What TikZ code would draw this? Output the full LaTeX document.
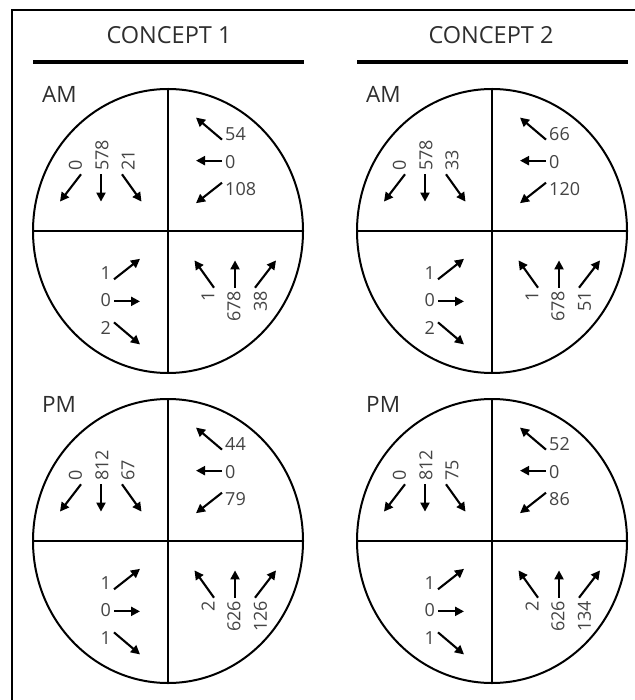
\documentclass[tikz,border=0pt]{standalone}
\usepackage{fontspec}
\setmainfont{Open Sans}
\usetikzlibrary{arrows.meta,shapes.geometric}
\definecolor{hdrcol}{HTML}{2E2E2E}
\definecolor{numcol}{HTML}{444444}
\tikzset{
  arr/.style={line width=2.1pt,-{Triangle[length=9pt,width=9pt]}},
  numlab/.style={text=numcol,inner sep=0pt,font=\fontsize{18}{19}\selectfont},
  hdr/.style={text=hdrcol,inner sep=0pt,font=\fontsize{23.5}{25}\selectfont},
  per/.style={text=hdrcol,inner sep=0pt,font=\fontsize{22.5}{24}\selectfont,anchor=west},
  junc/.style={draw,ellipse,line width=2pt,minimum width=270pt,minimum height=284pt,inner sep=0pt},
  divider/.style={line width=1.5pt},
  rule/.style={line width=3.2pt},
  frame/.style={line width=2pt}
}
% #1 cx, #2 cy, #3 rotation, #4 text rotation, #5 anchor, #6 #7 #8 labels
\newcommand{\legset}[8]{%
\begin{scope}[shift={(#1,#2)},yscale=1.05,rotate=#3]
  \coordinate (at) at (54,-87);  \coordinate (ah) at (28,-108);
  \coordinate (bt) at (54,-67);  \coordinate (bh) at (28,-67);
  \coordinate (ct) at (54,-46);  \coordinate (ch) at (28,-26.5);
  \draw[arr] (at) -- (ah);
  \draw[arr] (bt) -- (bh);
  \draw[arr] (ct) -- (ch);
  \node[numlab,rotate=#4,anchor=#5] at (57,-92.5) {#6};
  \node[numlab,rotate=#4,anchor=#5] at (57,-66) {#7};
  \node[numlab,rotate=#4,anchor=#5] at (57,-40) {#8};
\end{scope}}
% #1 name, #2 cx, #3 cy, #4 period label
\newcommand{\junction}[4]{%
  \node[junc] (#1) at (#2,#3) {};
  \draw[divider] (#1.north) -- (#1.south);
  \draw[divider] (#1.west) -- (#1.east);
  \node[per] (#1lab) at ([xshift=-126pt,yshift=137pt]#1.center) {#4};
}
\begin{document}
\begin{tikzpicture}[x=1pt,y=-1pt]
\useasboundingbox (0,0) rectangle (634,700);
\fill[white] (0,0) rectangle (634,700);
% frame
\coordinate (fbl) at (12,702);
\coordinate (ftl) at (12,10);
\coordinate (ftr) at (636,10);
\draw[frame] (fbl) -- (ftl) -- (ftr);
% headers
\node[hdr] (h1) at (169,35) {CONCEPT 1};
\node[hdr] (h2) at (491,35) {CONCEPT 2};
\coordinate (r1a) at (33,62); \coordinate (r1b) at (304,62);
\coordinate (r2a) at (357,62); \coordinate (r2b) at (628,62);
\draw[rule] (r1a) -- (r1b);
\draw[rule] (r2a) -- (r2b);
% junctions
\junction{j1}{168}{231}{AM}
\junction{j2}{492}{231}{AM}
\junction{j3}{168}{541}{PM}
\junction{j4}{492}{541}{PM}
% concept 1 AM
\legset{168}{231}{0}{0}{west}{54}{0}{108}
\legset{168}{231}{90}{90}{west}{0}{578}{21}
\legset{168}{231}{180}{0}{east}{2}{0}{1}
\legset{168}{231}{270}{90}{east}{38}{678}{1}
% concept 2 AM
\legset{492}{231}{0}{0}{west}{66}{0}{120}
\legset{492}{231}{90}{90}{west}{0}{578}{33}
\legset{492}{231}{180}{0}{east}{2}{0}{1}
\legset{492}{231}{270}{90}{east}{51}{678}{1}
% concept 1 PM
\legset{168}{541}{0}{0}{west}{44}{0}{79}
\legset{168}{541}{90}{90}{west}{0}{812}{67}
\legset{168}{541}{180}{0}{east}{1}{0}{1}
\legset{168}{541}{270}{90}{east}{126}{626}{2}
% concept 2 PM
\legset{492}{541}{0}{0}{west}{52}{0}{86}
\legset{492}{541}{90}{90}{west}{0}{812}{75}
\legset{492}{541}{180}{0}{east}{1}{0}{1}
\legset{492}{541}{270}{90}{east}{134}{626}{2}
\end{tikzpicture}
\end{document}
